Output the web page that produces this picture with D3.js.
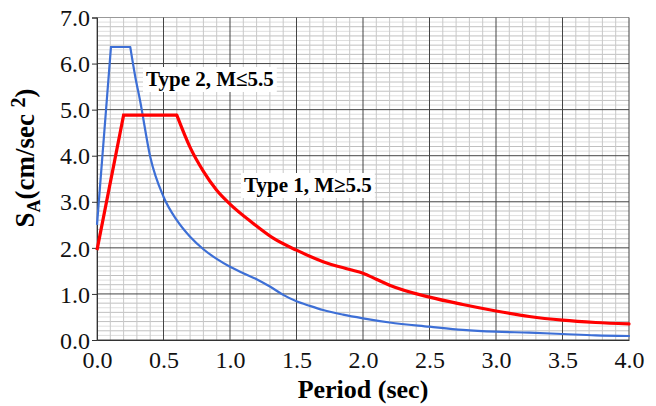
<!DOCTYPE html>
<html>
<head>
<meta charset="UTF-8">
<title>Response spectra</title>
<script src="https://cdn.jsdelivr.net/npm/d3@7"></script>
<style>
  body { margin: 0; background: #fff; }
  text { font-family: "Liberation Serif", "Times New Roman", serif; }
</style>
</head>
<body>
<svg width="656" height="406"></svg>
<script>
// periods (sec) and spectral accelerations
var type2Period = [0, 0.105, 0.25, 0.288, 0.323, 0.4, 0.5, 0.6, 0.7, 0.8, 0.9, 1.0, 1.1, 1.2, 1.3, 1.4, 1.5, 1.6, 1.7, 1.85, 2.0, 2.2, 2.5, 2.75, 3.0, 3.25, 3.5, 3.75, 4.0];
var type2SA     = [2.5, 6.36, 6.36, 5.71, 5.21, 3.98, 3.11, 2.60, 2.24, 1.97, 1.76, 1.59, 1.45, 1.32, 1.16, 0.98, 0.84, 0.74, 0.65, 0.55, 0.47, 0.38, 0.29, 0.22, 0.18, 0.16, 0.13, 0.10, 0.087];

var type1Period = [0, 0.2, 0.6, 0.7, 0.8, 0.9, 1.0, 1.175, 1.325, 1.5, 1.7, 1.9, 2.0, 2.1, 2.2, 2.5, 2.75, 3.0, 3.25, 3.5, 3.75, 4.0];
var type1SA     = [1.95, 4.88, 4.88, 4.18, 3.66, 3.25, 2.95, 2.53, 2.21, 1.95, 1.70, 1.53, 1.45, 1.32, 1.19, 0.93, 0.77, 0.63, 0.51, 0.43, 0.38, 0.35];

var xTicks = [0, 0.5, 1, 1.5, 2, 2.5, 3, 3.5, 4];
var yTicks = [0, 1, 2, 3, 4, 5, 6, 7];

var svg = d3.select("svg");
var plotL = 97, plotR = 629, plotT = 17.5, plotB = 340;

var x = d3.scaleLinear().domain([0, 4]).range([plotL, plotR]);
var y = d3.scaleLinear().domain([0, 7]).range([plotB, plotT]);

var grid = svg.append("g");
// minor horizontal lines every 0.1
d3.range(1, 70).forEach(function (i) {
    if (i % 10 === 0) return;
    grid.append("line")
        .attr("x1", plotL).attr("x2", plotR)
        .attr("y1", y(i / 10)).attr("y2", y(i / 10))
        .attr("stroke", i % 2 === 0 ? "#c0c0c0" : "#dedede")
        .attr("stroke-width", 1);
});
// minor vertical lines every 0.1
d3.range(1, 40).forEach(function (i) {
    if (i % 5 === 0) return;
    grid.append("line")
        .attr("y1", plotT).attr("y2", plotB)
        .attr("x1", x(i / 10)).attr("x2", x(i / 10))
        .attr("stroke", "#c8c8c8")
        .attr("stroke-width", 1);
});
// major lines
yTicks.forEach(function (v) {
    grid.append("line")
        .attr("x1", plotL).attr("x2", plotR)
        .attr("y1", y(v)).attr("y2", y(v))
        .attr("stroke", v === 7 ? "#999" : "#444")
        .attr("stroke-width", 1);
});
xTicks.forEach(function (v) {
    grid.append("line")
        .attr("y1", plotT).attr("y2", plotB)
        .attr("x1", x(v)).attr("x2", x(v))
        .attr("stroke", v === 0 ? "#666" : "#444")
        .attr("stroke-width", 1);
});

// axes
var xAxis = d3.axisBottom(x).tickValues(xTicks).tickFormat(d3.format(".1f")).tickSize(0).tickPadding(10);
var yAxis = d3.axisLeft(y).tickValues(yTicks).tickFormat(d3.format(".1f")).tickSize(5).tickPadding(2);

var gx = svg.append("g").attr("transform", "translate(0," + plotB + ")").call(xAxis);
var gy = svg.append("g").attr("transform", "translate(" + plotL + ",0)").call(yAxis);
[gx, gy].forEach(function (g) {
    g.attr("font-family", null);
    g.select(".domain").attr("stroke", "#333");
    g.selectAll(".tick line").attr("stroke", "#333");
    g.selectAll("text")
        .style("font-family", "'Liberation Serif', 'Times New Roman', serif")
        .attr("font-size", 24)
        .attr("fill", "#111");
});
gx.selectAll("text").attr("dy", "0.75em");
gy.selectAll("text").attr("dy", "0.34em");

// curves: straight ramp and plateau, then smooth descending branch
function drawSeries(periods, values, color, width) {
    var pts = periods.map(function (p, i) { return [p, values[i]]; });
    var peak = d3.max(values);
    var cut = values.lastIndexOf(peak);
    var linear = d3.line().x(function (d) { return x(d[0]); }).y(function (d) { return y(d[1]); });
    var smooth = d3.line().curve(d3.curveMonotoneX).x(function (d) { return x(d[0]); }).y(function (d) { return y(d[1]); });
    svg.append("path").attr("d", linear(pts.slice(0, cut + 1)))
        .attr("fill", "none").attr("stroke", color).attr("stroke-width", width)
        .attr("stroke-linejoin", "miter");
    svg.append("path").attr("d", smooth(pts.slice(cut)))
        .attr("fill", "none").attr("stroke", color).attr("stroke-width", width)
        .attr("stroke-linecap", "round");
}
drawSeries(type2Period, type2SA, "#3d6fd6", 2.2);
drawSeries(type1Period, type1SA, "#ff0000", 3.2);

// annotations with white boxes
function label(txt, tx, ty) {
    var g = svg.append("g");
    var t = g.append("text").attr("x", tx).attr("y", ty)
        .attr("font-size", 21).attr("font-weight", "bold").attr("fill", "#000")
        .text(txt);
    var b = t.node().getBBox();
    g.insert("rect", "text")
        .attr("x", b.x - 3).attr("y", b.y).attr("width", b.width + 6).attr("height", b.height + 1)
        .attr("fill", "#fff");
}
label("Type 2, M\u22645.5", 146, 86);
label("Type 1, M\u22655.5", 244, 192);

// axis titles
svg.append("text")
    .attr("x", (plotL + plotR) / 2).attr("y", 398)
    .attr("text-anchor", "middle")
    .attr("font-size", 26).attr("font-weight", "bold")
    .text("Period (sec)");

var yt = svg.append("text")
    .attr("transform", "translate(34,158) rotate(-90)")
    .attr("text-anchor", "middle")
    .attr("font-size", 27).attr("font-weight", "bold");
yt.append("tspan").text("S");
yt.append("tspan").attr("font-size", 18).attr("dy", 6).text("A");
yt.append("tspan").attr("dy", -6).text("(cm/sec ");
yt.append("tspan").attr("font-size", 20).attr("dy", -9).text("2");
yt.append("tspan").attr("dy", 9).text(")");
</script>
</body>
</html>
